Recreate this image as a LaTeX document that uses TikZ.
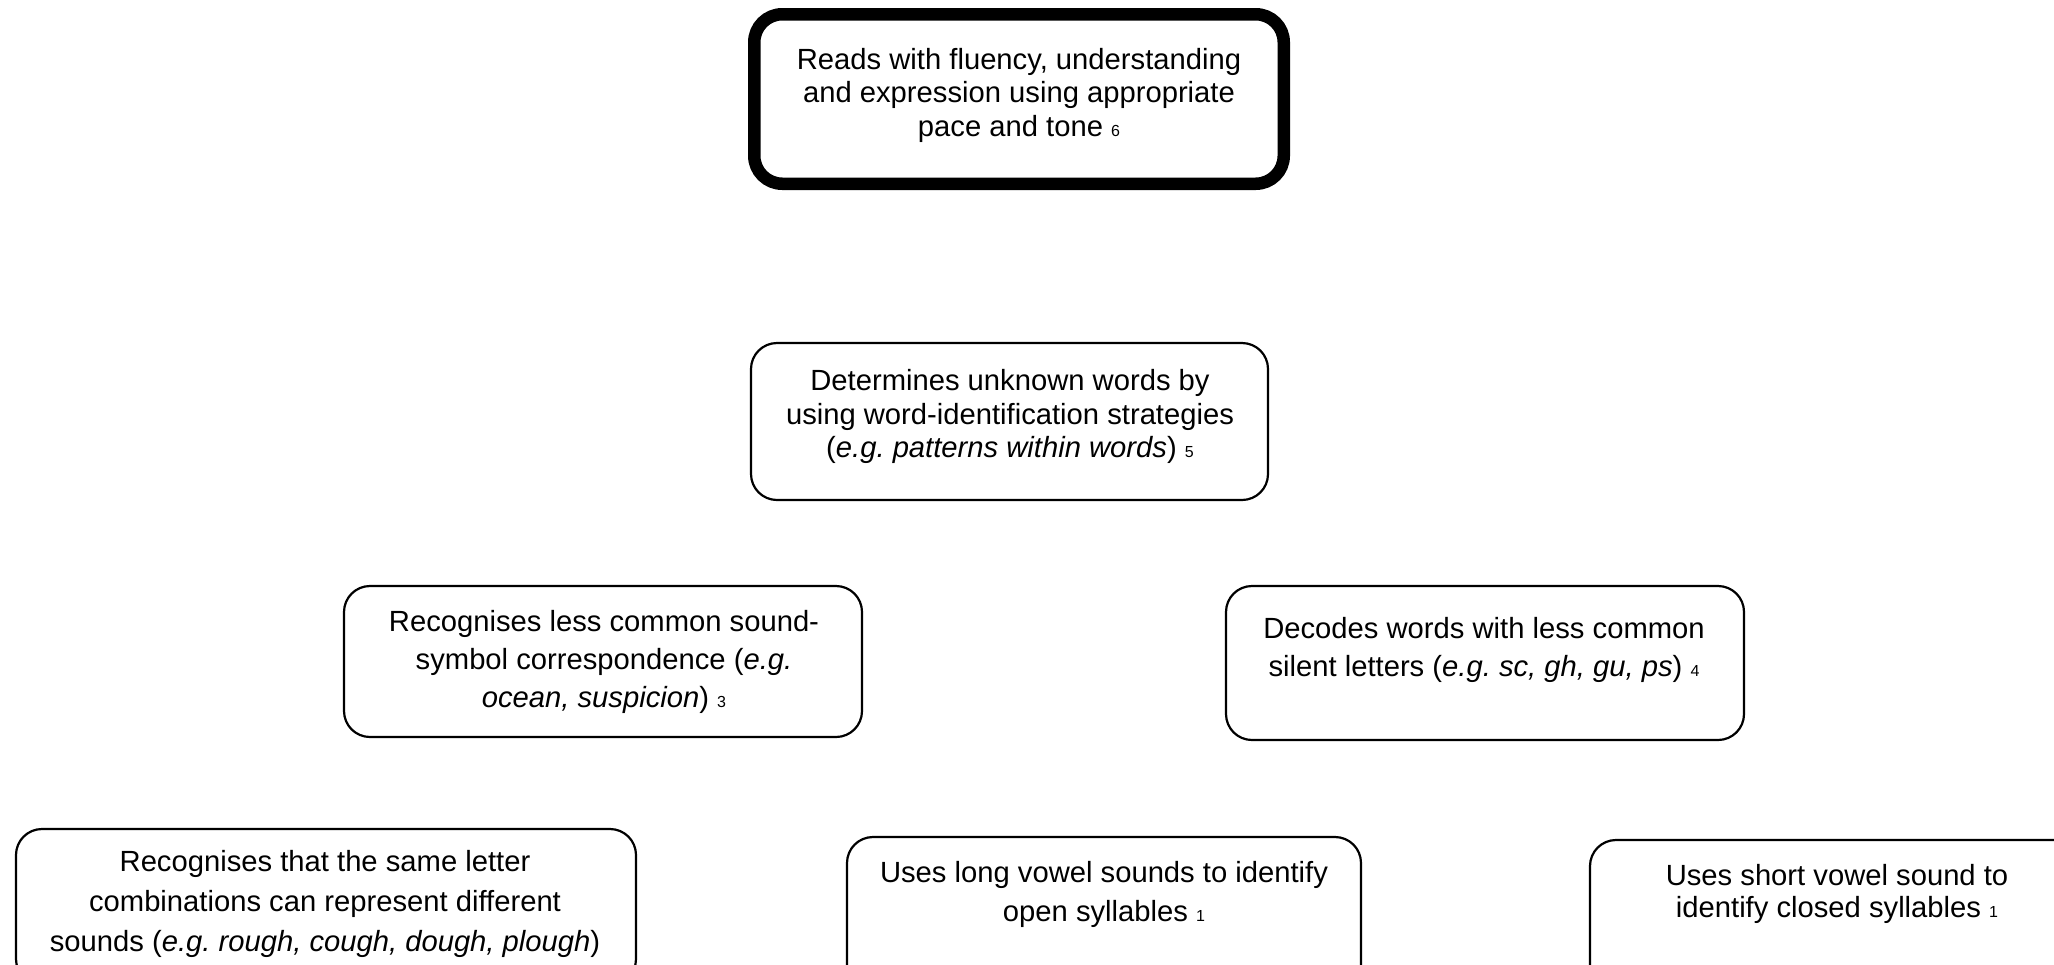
\documentclass[tikz,border=0pt]{standalone}
\usepackage{fontspec}
\setmainfont{Liberation Sans}
\frenchspacing
% small level number printed after each statement
\newcommand\lvlnum[1]{{\fontsize{8pt}{8pt}\selectfont #1}}
\begin{document}
\begin{tikzpicture}[x=0.5pt,y=-0.5pt,
  stage/.style={draw=black, line width=1.1pt, rounded corners=13pt, fill=white, inner sep=0pt},
  goal/.style={draw=black, line width=6.25pt, rounded corners=14pt, fill=white, inner sep=0pt},
  words/.style={align=center, inner sep=0pt, font=\fontsize{14.6pt}{16.75pt}\selectfont},
  roomy/.style={font=\fontsize{14.6pt}{19pt}\selectfont}]
\useasboundingbox (0,0) rectangle (2054,964);
\clip (0,0) rectangle (2054,964);

% boxes
\node[goal,  minimum width=264.75pt, minimum height=84.75pt] (b6)  at (1019,99)     {};
\node[stage, minimum width=258.5pt,  minimum height=78.5pt]  (b5)  at (1009.5,421.5) {};
\node[stage, minimum width=259pt,    minimum height=75.5pt]  (b3)  at (603,661.5)   {};
\node[stage, minimum width=259pt,    minimum height=77pt]    (b4)  at (1485,663)    {};
\node[stage, minimum width=310pt,    minimum height=78pt]    (b2)  at (326,907)     {};
\node[stage, minimum width=257pt,    minimum height=78pt]    (b1a) at (1104,915)    {};
\node[stage, minimum width=260pt,    minimum height=78pt]    (b1b) at (1850,918)    {};

% statements
\node[words] (t6) at (1019,95)
  {Reads with fluency, understanding\\and expression using appropriate\\pace and tone \lvlnum{6}};
\node[words] (t5) at (1010,416.5)
  {Determines unknown words by\\using word-identification strategies\\(\textit{e.g. patterns within words}) \lvlnum{5}};
\node[words, roomy] (t3) at (604,661.5)
  {Recognises less common sound-\\symbol correspondence (\textit{e.g.}\\\textit{ocean, suspicion}) \lvlnum{3}};
\node[words, roomy] (t4) at (1484,649.5)
  {Decodes words with less common\\silent letters (\textit{e.g. sc, gh, gu, ps}) \lvlnum{4}};
\node[words, font=\fontsize{14.6pt}{20pt}\selectfont] (t2) at (325,904)
  {Recognises that the same letter\\combinations can represent different\\sounds (\textit{e.g. rough, cough, dough, plough})};
\node[words, font=\fontsize{14.6pt}{19.5pt}\selectfont] (t1a) at (1104,894)
  {Uses long vowel sounds to identify\\open syllables \lvlnum{1}};
\node[words, font=\fontsize{14.6pt}{16.2pt}\selectfont] (t1b) at (1837,894)
  {Uses short vowel sound to\\identify closed syllables \lvlnum{1}};
\end{tikzpicture}
\end{document}
